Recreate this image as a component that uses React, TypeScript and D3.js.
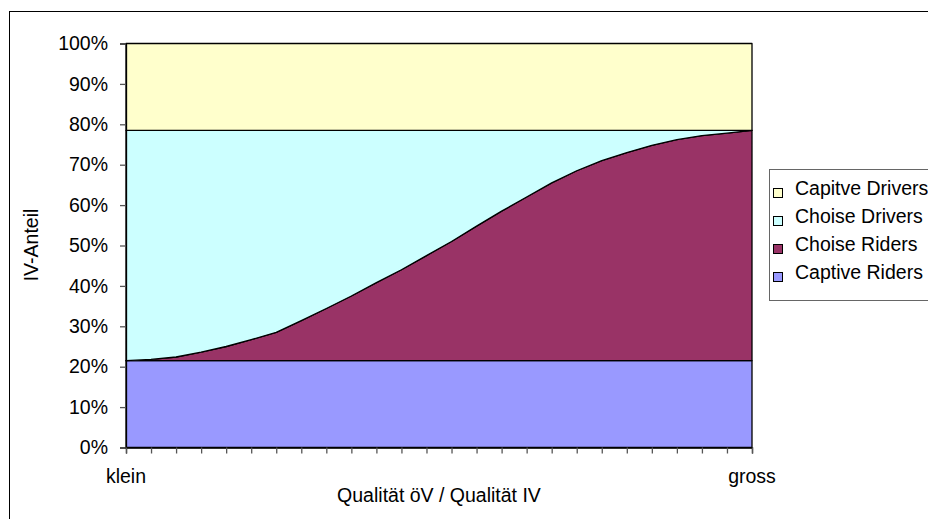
import React, { useEffect, useRef } from "react";
import * as d3 from "d3";

// categories along the x axis (only the ends are labelled)
const categories = d3.range(26);
const xLabels = ["klein", "", "", "", "", "", "", "", "", "", "", "", "", "", "", "", "", "", "", "", "", "", "", "", "", "gross"];

// shares in percent, bottom to top of the stack
const captiveRiders = [21.5, 21.5, 21.5, 21.5, 21.5, 21.5, 21.5, 21.5, 21.5, 21.5, 21.5, 21.5, 21.5, 21.5, 21.5, 21.5, 21.5, 21.5, 21.5, 21.5, 21.5, 21.5, 21.5, 21.5, 21.5, 21.5];
const choiseRiders = [0, 0.3, 0.9, 2.1, 3.5, 5.2, 7.0, 9.9, 12.9, 16.0, 19.3, 22.5, 26.0, 29.5, 33.3, 37.0, 40.5, 44.0, 47.0, 49.5, 51.5, 53.3, 54.7, 55.7, 56.3, 57.0];
const choiseDrivers = [57.0, 56.7, 56.1, 54.9, 53.5, 51.8, 50.0, 47.1, 44.1, 41.0, 37.7, 34.5, 31.0, 27.5, 23.7, 20.0, 16.5, 13.0, 10.0, 7.5, 5.5, 3.7, 2.3, 1.3, 0.7, 0];
const captiveDrivers = [21.5, 21.5, 21.5, 21.5, 21.5, 21.5, 21.5, 21.5, 21.5, 21.5, 21.5, 21.5, 21.5, 21.5, 21.5, 21.5, 21.5, 21.5, 21.5, 21.5, 21.5, 21.5, 21.5, 21.5, 21.5, 21.5];

const seriesKeys = ["Captive Riders", "Choise Riders", "Choise Drivers", "Capitve Drivers"];
const seriesColors = ["#9999ff", "#993366", "#ccffff", "#ffffcc"];
const yTicks = [0, 10, 20, 30, 40, 50, 60, 70, 80, 90, 100];

const font = "'Liberation Sans', Arial, sans-serif";

export default function App() {
  const ref = useRef<SVGSVGElement>(null);

  useEffect(() => {
    const svg = d3.select(ref.current);
    svg.selectAll("*").remove();

    const x = d3.scaleLinear().domain([0, categories.length - 1]).range([126, 752]);
    const y = d3.scaleLinear().domain([0, 100]).range([447.5, 43.5]);

    const rows = categories.map((c, i) => ({
      "Captive Riders": captiveRiders[i],
      "Choise Riders": choiseRiders[i],
      "Choise Drivers": choiseDrivers[i],
      "Capitve Drivers": captiveDrivers[i],
    }));
    const stacked = d3.stack<any>().keys(seriesKeys)(rows);

    // outer chart frame
    svg.append("rect")
      .attr("x", 9.5).attr("y", 11.5)
      .attr("width", 1000).attr("height", 1000)
      .attr("fill", "white").attr("stroke", "#000").attr("stroke-width", 1);

    const area = d3.area<any>()
      .x((d, i) => x(i))
      .y0(d => y(d[0]))
      .y1(d => y(d[1]));

    svg.append("g")
      .selectAll("path")
      .data(stacked)
      .enter()
      .append("path")
      .attr("d", area)
      .attr("fill", (d, i) => seriesColors[i])
      .attr("stroke", "#000")
      .attr("stroke-width", 1.3)
      .attr("stroke-linejoin", "round");

    // y axis
    const yAxis = svg.append("g")
      .attr("transform", "translate(126,0)")
      .call(d3.axisLeft(y).tickValues(yTicks).tickSize(6).tickPadding(12).tickFormat(d => d + "%"));
    yAxis.select(".domain").attr("stroke", "#000").attr("stroke-width", 1.3);
    yAxis.selectAll(".tick line").attr("stroke", "#555").attr("stroke-width", 1.3);
    yAxis.selectAll("text").attr("font-family", font).attr("font-size", 19.5).attr("fill", "#000");

    // x axis
    const xAxis = svg.append("g")
      .attr("transform", "translate(0,447.5)")
      .call(d3.axisBottom(x).tickValues(categories).tickSize(6).tickFormat(() => ""));
    xAxis.select(".domain").attr("stroke", "#000").attr("stroke-width", 1.3);
    xAxis.selectAll(".tick line").attr("stroke", "#555").attr("stroke-width", 1.3);

    svg.append("g")
      .selectAll("text")
      .data(categories.filter((c, i) => xLabels[i] !== ""))
      .enter()
      .append("text")
      .attr("x", d => x(d))
      .attr("y", 483)
      .attr("text-anchor", "middle")
      .attr("font-family", font)
      .attr("font-size", 19.5)
      .text(d => xLabels[d]);

    svg.append("text")
      .attr("x", 439).attr("y", 502)
      .attr("text-anchor", "middle")
      .attr("font-family", font).attr("font-size", 19.5)
      .text("Qualität öV / Qualität IV");

    svg.append("text")
      .attr("transform", "translate(38,245) rotate(-90)")
      .attr("text-anchor", "middle")
      .attr("font-family", font).attr("font-size", 19.5)
      .text("IV-Anteil");

    // legend
    const legend = svg.append("g");
    legend.append("rect")
      .attr("x", 769.5).attr("y", 169.5)
      .attr("width", 200).attr("height", 131)
      .attr("fill", "white").attr("stroke", "#666");

    const items = seriesKeys.map((k, i) => ({ key: k, color: seriesColors[i] })).reverse();
    const li = legend.selectAll("g.item")
      .data(items)
      .enter()
      .append("g")
      .attr("transform", (d, i) => `translate(0,${195 + i * 28})`);
    li.append("rect")
      .attr("x", 773.5).attr("y", -6.5)
      .attr("width", 9).attr("height", 9)
      .attr("fill", d => d.color).attr("stroke", "#000");
    li.append("text")
      .attr("x", 795).attr("y", 0)
      .attr("font-family", font).attr("font-size", 19.5)
      .text(d => d.key);
  }, []);

  return (
    <svg ref={ref} width={928} height={519}
      style={{ position: "absolute", left: 0, top: 0, display: "block", background: "white" }} />
  );
}
